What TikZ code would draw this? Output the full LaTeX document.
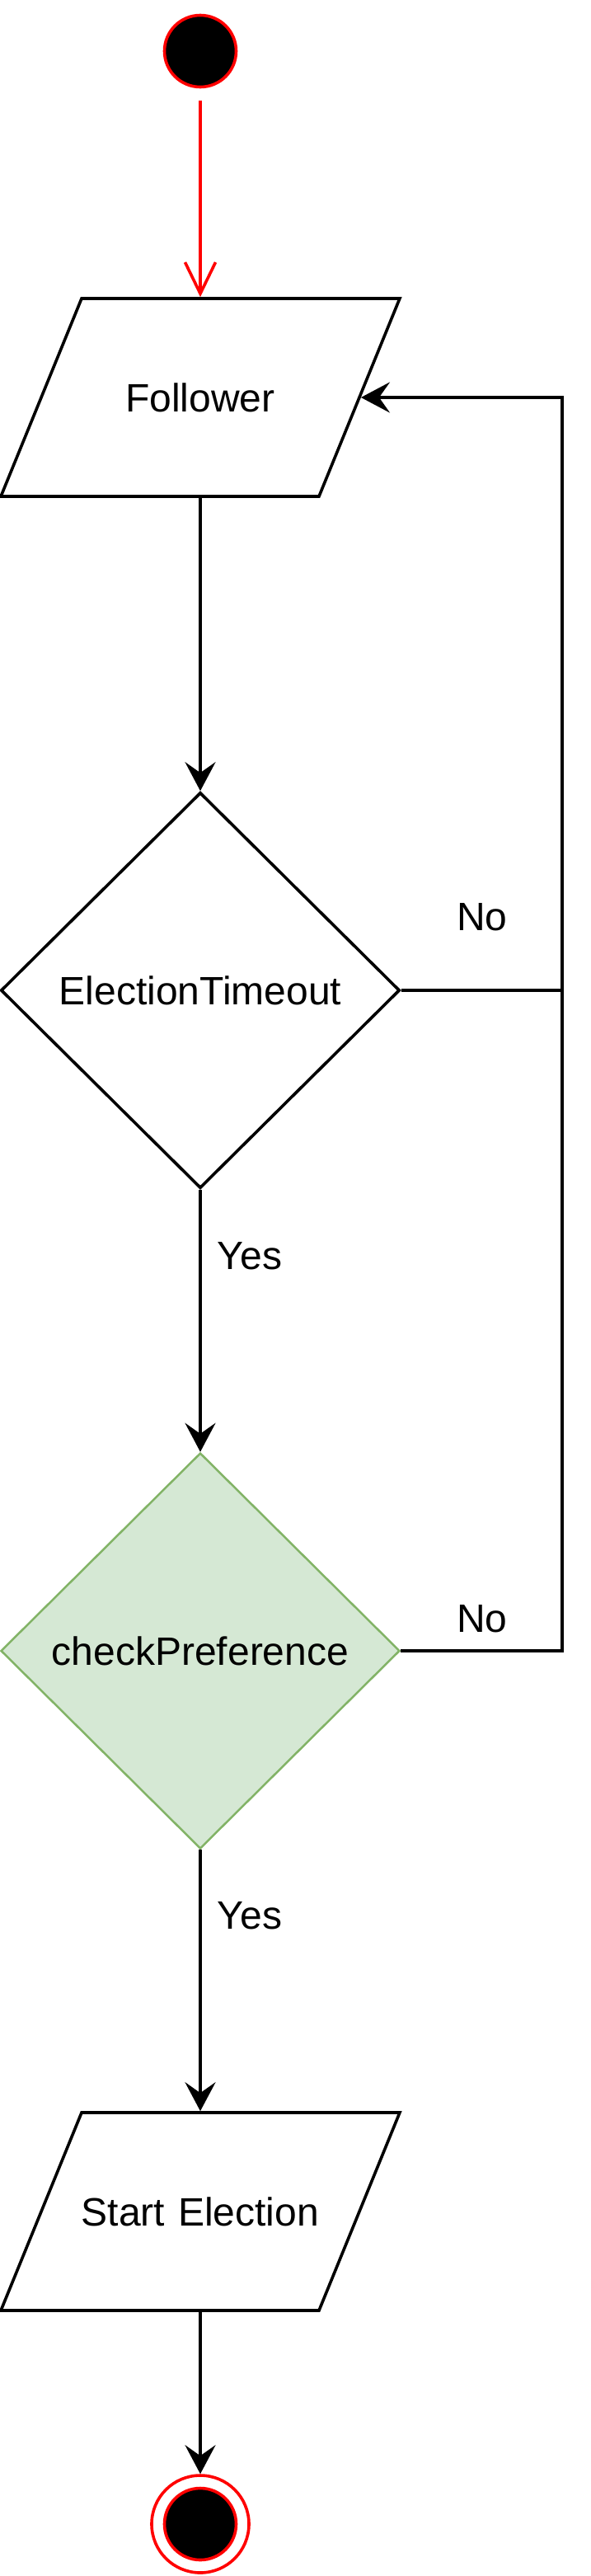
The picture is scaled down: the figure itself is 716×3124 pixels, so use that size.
\documentclass[tikz,border=0pt]{standalone}
\usepackage{fontspec}
\setmainfont{Liberation Sans}
\usetikzlibrary{shapes.geometric}
\usetikzlibrary{arrows.meta}
\usetikzlibrary{positioning}
\definecolor{prefgreen}{HTML}{D5E8D4}
\definecolor{prefedge}{HTML}{82B366}
\newcommand{\iotext}[1]{\makebox[0pt]{#1}}

\begin{document}
\begin{tikzpicture}[x=1pt,y=-1pt,line width=3.6pt,>={Stealth[length=35pt,width=37pt,inset=13pt]},
    font=\fontsize{48}{56}\selectfont,
    io node/.style={trapezium,trapezium left angle=67.8,trapezium right angle=112.2,draw,text width=288pt,text height=137pt,text depth=103pt,align=center,inner sep=0pt},
    test node/.style={diamond,draw,minimum width=484pt,minimum height=480pt,inner sep=0pt},
    dot node/.style={circle,fill=black,draw=red,minimum size=87pt,inner sep=0pt},
    ring node/.style={circle,draw=red,minimum size=118pt,inner sep=0pt},
    lbl node/.style={inner sep=0pt}]
   \useasboundingbox (0,0) rectangle (716,3124);
   \begin{scope}
      \node[dot node] (start) at (243,62) {};
      \node[io node] (follower) at (243,482) {\iotext{Follower}};
      \node[test node] (timeout) at (243,1201) {ElectionTimeout};
      \node[test node,line width=2.5pt,fill=prefgreen,draw=prefedge] (pref) at (243,2002) {checkPreference};
      \node[io node] (elect) at (243,2682) {\iotext{Start Election}};
      \node[ring node] (stop) at (243,3061) {};
      \node[dot node] (stopdot) at (243,3061) {};
      % loop back to follower
      \coordinate (loopa) at (682,1201);
      \coordinate (loopb) at (682,2002);
      \node[lbl node] (noa) at (585,1112) {No};
      \node[lbl node] (nob) at (585,1963) {No};
      \node[lbl node] (yesa) at (303,1523) {Yes};
      \node[lbl node] (yesb) at (303,2323) {Yes};
      \path[red,-{Straight Barb[length=38pt,width=37pt]},shorten <=15pt] (start) edge (follower);
      \path[->] (follower) edge (timeout);
      \path[->] (timeout) edge (pref);
      \path[->] (pref) edge (elect);
      \path[->] (elect) edge (stop);
      \draw[->] (timeout.east) -- (loopa) |- (follower.east);
      \draw (pref.east) -- (loopb) -- (loopa);
   \end{scope}
\end{tikzpicture}
\end{document}
